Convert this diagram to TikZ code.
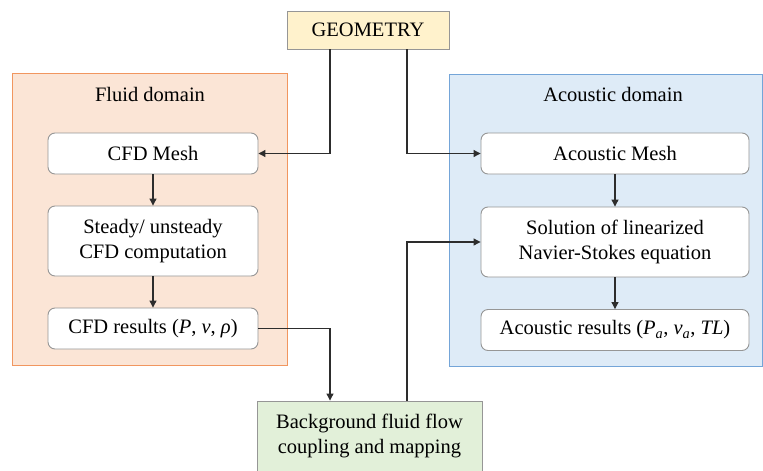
\documentclass[tikz,border=0pt]{standalone}
\usepackage{fontspec}
\setmainfont{Liberation Serif}
\usepackage{tikz}
\usetikzlibrary{arrows.meta,positioning,calc}
\definecolor{peach}{RGB}{251,229,214}
\definecolor{peachline}{RGB}{241,150,95}
\definecolor{skyblue}{RGB}{222,235,247}
\definecolor{skyblueline}{RGB}{116,165,216}
\definecolor{butter}{RGB}{255,242,204}
\definecolor{mint}{RGB}{226,240,217}
\definecolor{boxline}{RGB}{150,150,150}
\definecolor{wire}{RGB}{45,45,45}
\newcommand{\var}[1]{{\itshape #1}}

\begin{document}
\begin{tikzpicture}[x=1pt, y=-1pt,
    >={Triangle[length=7pt,width=7pt]},
    font=\fontsize{20.5}{25}\selectfont,
    domain/.style={rectangle, draw=#1line, fill=#1, line width=0.9pt,
                   inner sep=0pt},
    stepbox/.style={rectangle, rounded corners=7pt, draw=boxline, fill=white,
                    align=center, minimum width=210pt, minimum height=41pt,
                    inner sep=2pt, line width=0.9pt},
    tallbox/.style={stepbox, minimum height=70pt},
    plainbox/.style={rectangle, draw=boxline, align=center, line width=0.9pt,
                     inner sep=2pt},
    arr/.style={->, line width=1.1pt, draw=wire},
  ]
    \useasboundingbox (0,0) rectangle (763,471);

    % domains
    \node[domain=peach, minimum width=275pt, minimum height=292pt] (fluid) at (149.5,219) {};
    \node[domain=skyblue, minimum width=313pt, minimum height=292pt] (acou) at (605.5,220) {};
    \node (fluidt) at (150,94) {Fluid domain};
    \node (acout) at (613,94) {Acoustic domain};

    \node[plainbox, fill=butter, minimum width=162pt, minimum height=38pt] (geo) at (368,30) {GEOMETRY};

    \node[stepbox] (mesh1) at (153,153.5) {CFD Mesh};
    \node[tallbox] (solve1) at (153,241) {Steady/ unsteady\\CFD computation};
    \node[stepbox] (res1) at (153,328.5) {CFD results (\var{P}, \var{ν}, \var{ρ})};

    \node[stepbox, minimum width=268pt] (mesh2) at (615,153.5) {Acoustic Mesh};
    \node[tallbox, minimum width=268pt] (solve2) at (615,242) {Solution of linearized\\Navier-Stokes equation};
    \node[stepbox, minimum width=268pt] (res2) at (615,330) {Acoustic results (\var{P\textsubscript{a}}, \var{ν\textsubscript{a}}, \var{TL})};

    \node[plainbox, fill=mint, minimum width=225pt, minimum height=70pt] (bg) at (369.5,436) {Background fluid flow\\coupling and mapping};

    \draw[arr] ([xshift=-38pt]geo.south) |- (mesh1.east);
    \draw[arr] ([xshift=39pt]geo.south) |- (mesh2.west);
    \draw[arr] (mesh1) -- (solve1);
    \draw[arr] (solve1) -- (res1);
    \draw[arr] (mesh2) -- (solve2);
    \draw[arr] (solve2) -- (res2);
    \draw[arr] (res1.east) -| ([xshift=-39.5pt]bg.north);
    \draw[arr] ([xshift=37.5pt]bg.north) |- (solve2.west);
  \end{tikzpicture}
\end{document}
